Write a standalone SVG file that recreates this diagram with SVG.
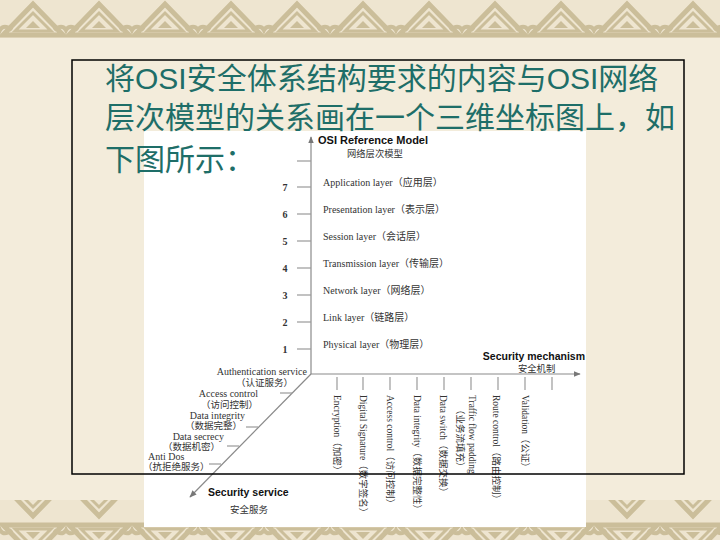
<svg xmlns="http://www.w3.org/2000/svg" width="720" height="540" viewBox="0 0 720 540">
<defs>
<style>
.title{font-family:"Liberation Sans","Noto Sans CJK SC",sans-serif;font-size:30px;fill:#1e6e68}
.lbl{font-family:"Liberation Serif","Noto Sans CJK SC",serif;font-size:10px;fill:#333}
.sv{font-family:"Liberation Serif","Noto Sans CJK SC",serif;font-size:9.5px;fill:#333}
.vt{font-family:"Liberation Serif","Noto Sans CJK SC",serif;font-size:9.5px;fill:#333}
.num{font-family:"Liberation Serif",serif;font-size:10px;font-weight:bold;fill:#333;text-anchor:middle}
.bold{font-family:"Liberation Sans",sans-serif;font-weight:bold;fill:#111}
.cjk{font-family:"Noto Sans CJK SC",sans-serif;fill:#333}
.axis{stroke:#8a8a8a;stroke-width:1.2;fill:none}
.tick{stroke:#9a9a9a;stroke-width:1.2}
.knot{fill:none;stroke:#cbbe9a;stroke-linejoin:miter}
</style>
<marker id="arr" viewBox="0 0 10 10" refX="9" refY="5" markerWidth="6" markerHeight="6" orient="auto">
<path d="M0,1 L10,5 L0,9 z" fill="#777"/>
</marker>
<pattern id="bandUp" width="66" height="40" patternUnits="userSpaceOnUse">
<polygon class="knot" points="3,35 33,4 63,35" stroke-width="5"/>
<polygon class="knot" points="15,31 33,13 51,31" stroke-width="3"/>
<polygon points="26,28 33,21 40,28" fill="#cbbe9a"/>
<path class="knot" d="M-3,40 Q0,20 12,30 M69,40 Q66,20 54,30" stroke-width="4"/>
</pattern>
<pattern id="bandDown" width="66" height="40" patternUnits="userSpaceOnUse">
<polygon class="knot" points="3,5 33,36 63,5" stroke-width="5"/>
<polygon class="knot" points="15,9 33,27 51,9" stroke-width="3"/>
<polygon points="26,12 33,19 40,12" fill="#cbbe9a"/>
<path class="knot" d="M-3,0 Q0,20 12,10 M69,0 Q66,20 54,10" stroke-width="4"/>
</pattern>
</defs>

<!-- slide background -->
<rect x="0" y="0" width="720" height="540" fill="#f3ecdb"/>
<rect x="0" y="0" width="720" height="38" fill="#eee5d0"/>
<rect x="0" y="0" width="720" height="38" fill="url(#bandUp)"/>
<rect x="0" y="500" width="720" height="40" fill="#eee5d0"/>
<rect x="0" y="500" width="720" height="40" fill="url(#bandDown)"/>

<!-- embedded picture area -->
<rect id="picture" x="144" y="131" width="442" height="396" fill="#ffffff"/>

<!-- connectors: axes and ticks -->
<g id="connectors">
<line class="axis" x1="311" y1="374" x2="311" y2="137" marker-end="url(#arr)"/>
<line class="axis" x1="311" y1="374" x2="580" y2="374" marker-end="url(#arr)"/>
<line class="axis" x1="311" y1="374" x2="190" y2="497" marker-end="url(#arr)"/>
<line class="tick" x1="297" y1="161" x2="311" y2="161"/>
<line class="tick" x1="297" y1="187" x2="311" y2="187"/>
<line class="tick" x1="297" y1="214" x2="311" y2="214"/>
<line class="tick" x1="297" y1="241" x2="311" y2="241"/>
<line class="tick" x1="297" y1="268" x2="311" y2="268"/>
<line class="tick" x1="297" y1="295" x2="311" y2="295"/>
<line class="tick" x1="297" y1="322" x2="311" y2="322"/>
<line class="tick" x1="297" y1="349" x2="311" y2="349"/>
<line class="tick" x1="337" y1="377" x2="337" y2="390"/>
<line class="tick" x1="363" y1="377" x2="363" y2="390"/>
<line class="tick" x1="390" y1="377" x2="390" y2="390"/>
<line class="tick" x1="417" y1="377" x2="417" y2="390"/>
<line class="tick" x1="444" y1="377" x2="444" y2="390"/>
<line class="tick" x1="471" y1="377" x2="471" y2="390"/>
<line class="tick" x1="498" y1="377" x2="498" y2="390"/>
<line class="tick" x1="525" y1="377" x2="525" y2="390"/>
<line class="tick" x1="552" y1="377" x2="552" y2="390"/>
<line class="tick" x1="280" y1="393" x2="292" y2="393"/>
<line class="tick" x1="246" y1="427" x2="258" y2="427"/>
<line class="tick" x1="227" y1="446" x2="239" y2="446"/>
<line class="tick" x1="209" y1="464" x2="221" y2="464"/>
</g>

<!-- vertical axis: OSI reference model -->
<g id="axis-osi">
<text class="bold" x="318" y="143.5" font-size="11">OSI Reference Model</text>
<text class="cjk" x="347" y="157" font-size="9.3">网络层次模型</text>
</g>
<g id="layer-7"><text class="num" x="285" y="191">7</text><text class="lbl" x="323" y="186">Application layer（应用层）</text></g>
<g id="layer-6"><text class="num" x="285" y="218">6</text><text class="lbl" x="323" y="213">Presentation layer（表示层）</text></g>
<g id="layer-5"><text class="num" x="285" y="245">5</text><text class="lbl" x="323" y="240">Session layer（会话层）</text></g>
<g id="layer-4"><text class="num" x="285" y="272">4</text><text class="lbl" x="323" y="267">Transmission layer（传输层）</text></g>
<g id="layer-3"><text class="num" x="285" y="299">3</text><text class="lbl" x="323" y="294">Network layer（网络层）</text></g>
<g id="layer-2"><text class="num" x="285" y="326">2</text><text class="lbl" x="323" y="321">Link layer（链路层）</text></g>
<g id="layer-1"><text class="num" x="285" y="353">1</text><text class="lbl" x="323" y="348">Physical layer（物理层）</text></g>

<!-- horizontal axis: security mechanism -->
<g id="axis-mechanism">
<text class="bold" x="585" y="360" font-size="10.5" text-anchor="end">Security mechanism</text>
<text class="cjk" x="518" y="372" font-size="9.3">安全机制</text>
</g>
<g id="mech-encryption"><text class="vt" transform="translate(334,395) rotate(90)">Encryption（加密）</text></g>
<g id="mech-signature"><text class="vt" transform="translate(360,395) rotate(90)">Digital Signature（数字签名）</text></g>
<g id="mech-access"><text class="vt" transform="translate(387,395) rotate(90)">Access control（访问控制）</text></g>
<g id="mech-integrity"><text class="vt" transform="translate(414,395) rotate(90)">Data integrity（数据完整性）</text></g>
<g id="mech-switch"><text class="vt" transform="translate(440,395) rotate(90)">Data switch（数据交换）</text></g>
<g id="mech-padding">
<text class="vt" transform="translate(469,395) rotate(90)">Traffic flow padding</text>
<text class="vt" transform="translate(457,405) rotate(90)">（业务流填充）</text>
</g>
<g id="mech-route"><text class="vt" transform="translate(493,395) rotate(90)">Route control（路由控制）</text></g>
<g id="mech-validation"><text class="vt" transform="translate(522,395) rotate(90)">Validation（公证）</text></g>

<!-- diagonal axis: security service -->
<g id="svc-auth">
<text class="lbl" x="307" y="375" text-anchor="end">Authentication service</text>
<text class="sv" x="293" y="386" text-anchor="end">（认证服务）</text>
</g>
<g id="svc-access">
<text class="lbl" x="258" y="397" text-anchor="end">Access control</text>
<text class="sv" x="258" y="407.5" text-anchor="end">（访问控制）</text>
</g>
<g id="svc-integrity">
<text class="lbl" x="245" y="418.5" text-anchor="end">Data integrity</text>
<text class="sv" x="242" y="429" text-anchor="end">（数据完整）</text>
</g>
<g id="svc-secrecy">
<text class="lbl" x="224" y="439.5" text-anchor="end">Data secrecy</text>
<text class="sv" x="220" y="449.5" text-anchor="end">（数据机密）</text>
</g>
<g id="svc-antidos">
<text class="lbl" x="148" y="460">Anti Dos</text>
<text class="sv" x="143" y="470">（抗拒绝服务）</text>
</g>
<g id="axis-service">
<text class="bold" x="208" y="496" font-size="10.5">Security service</text>
<text class="cjk" x="230" y="513" font-size="9.5">安全服务</text>
</g>

<!-- slide title -->
<g id="title">
<text class="title" x="105" y="89">将OSI安全体系结构要求的内容与OSI网络</text>
<text class="title" x="105" y="128">层次模型的关系画在一个三维坐标图上，如</text>
<text class="title" x="105" y="170">下图所示：</text>
</g>

<!-- slide frame -->
<rect id="frame" x="72" y="60" width="612" height="414" fill="none" stroke="#000" stroke-width="1.5"/>
</svg>
